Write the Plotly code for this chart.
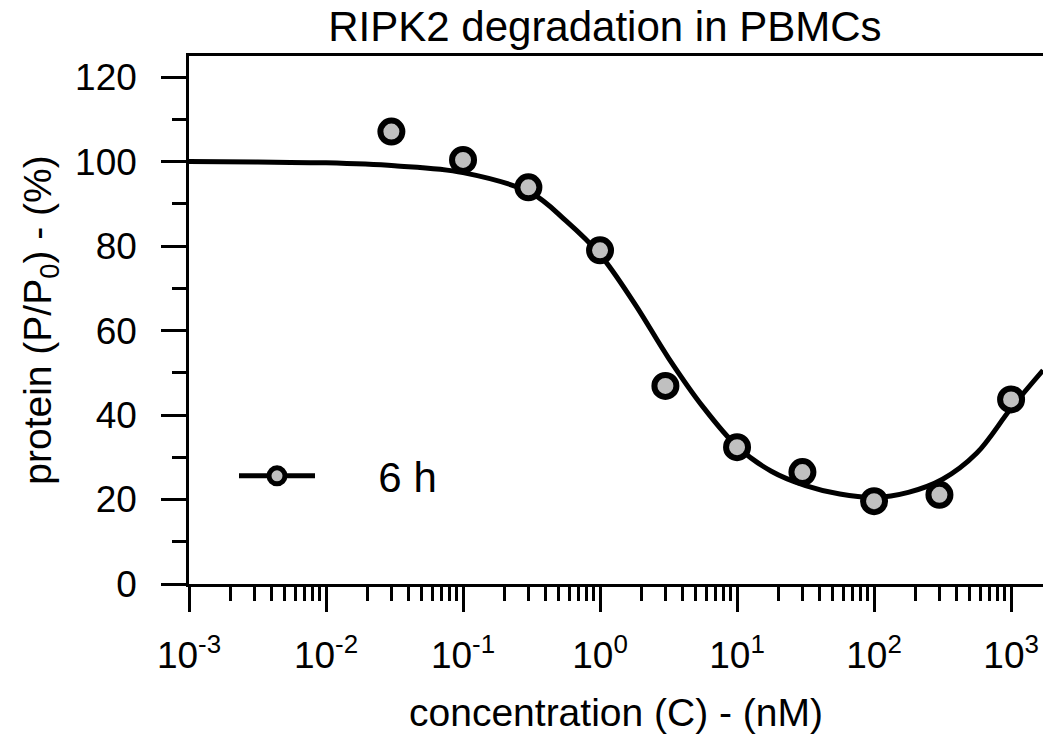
import plotly.graph_objects as go

# ---- data ----
conc_nM = [0.03, 0.1, 0.3, 1, 3, 10, 30, 100, 300, 1000]
protein_pct = [107.1, 100.4, 93.9, 79.0, 46.9, 32.4, 26.5, 19.6, 21.1, 43.7]

# fitted curve (log10 concentration, %)
curve_log_c = [-3.0, -2.5, -2.0, -1.5, -1.0, -0.5, -0.25, 0.0, 0.25, 0.5, 0.75,
               1.0, 1.25, 1.5, 1.75, 2.0, 2.25, 2.5, 2.75, 3.0, 3.233]
curve_pct = [100.0, 99.9, 99.7, 99.0, 97.4, 92.5, 86.0, 78.0, 66.5, 53.5, 42.0,
             32.6, 26.7, 23.3, 21.3, 20.5, 21.7, 24.8, 31.0, 41.6, 50.6]

x_tick_vals = [1e-3, 1e-2, 1e-1, 1e0, 1e1, 1e2, 1e3]
x_tick_text = ["10<sup>-3</sup>", "10<sup>-2</sup>", "10<sup>-1</sup>", "10<sup>0</sup>",
               "10<sup>1</sup>", "10<sup>2</sup>", "10<sup>3</sup>"]
y_tick_vals = [0, 20, 40, 60, 80, 100, 120]

series_name = "6 h"
title_text = "RIPK2 degradation in PBMCs"
x_title = "concentration (C) - (nM)"
y_title = "protein (P/P<sub>0</sub>) - (%)"

FONT = "Liberation Sans, Arial, Helvetica, sans-serif"
FS_TICK = 37
FS_AXT = 39
FS_TITLE = 42
FS_LEG = 42

x_minor = [m * 10 ** e for e in range(-3, 3) for m in range(2, 10)]
curve_c = [10 ** v for v in curve_log_c]

fig = go.Figure()
fig.add_trace(go.Scatter(
    x=curve_c, y=curve_pct, mode="lines",
    line=dict(color="black", width=5, shape="spline", smoothing=1.0),
    showlegend=False, hoverinfo="skip"))
fig.add_trace(go.Scatter(
    x=conc_nM, y=protein_pct, mode="markers",
    marker=dict(size=22, color="#c0c0c0", line=dict(color="black", width=6)),
    showlegend=False, cliponaxis=False))
# legend entry (line + marker sample)
fig.add_trace(go.Scatter(
    x=[None], y=[None], mode="lines+markers",
    name="\u00a0\u00a0\u00a0\u00a0\u00a0" + series_name,
    line=dict(color="black", width=5),
    marker=dict(size=16, color="#c0c0c0", line=dict(color="black", width=5))))

fig.update_layout(
    width=1043, height=744,
    margin=dict(l=189, r=0, t=56, b=160, autoexpand=False),
    paper_bgcolor="white", plot_bgcolor="white",
    font=dict(family=FONT, size=FS_TICK, color="black"),
    title=dict(text=title_text, x=0.487, xref="paper", xanchor="center",
               y=0.964, yref="container", yanchor="middle",
               font=dict(family=FONT, size=FS_TITLE, color="black")),
    showlegend=True,
    legend=dict(x=0.0527, y=0.2045, xanchor="left", yanchor="middle",
                bgcolor="rgba(0,0,0,0)", itemwidth=76,
                font=dict(family=FONT, size=FS_LEG, color="black")),
)

fig.update_xaxes(
    type="log", range=[-3, 3.233], automargin=False,
    showline=True, linecolor="black", linewidth=2.5, mirror=True,
    showgrid=False, zeroline=False,
    tickmode="array", tickvals=x_tick_vals, ticktext=x_tick_text,
    ticks="outside", ticklen=25, tickwidth=2.5, tickcolor="black",
    ticklabelstandoff=12,
    tickfont=dict(family=FONT, size=FS_TICK, color="black"),
    minor=dict(tickmode="array", tickvals=x_minor, ticks="outside",
               ticklen=14, tickwidth=2.5, tickcolor="black", showgrid=False),
    title=dict(text=x_title, standoff=24, font=dict(family=FONT, size=FS_AXT, color="black")),
)
fig.update_yaxes(
    range=[0, 125], automargin=False,
    showline=True, linecolor="black", linewidth=2.5, mirror=False,
    showgrid=False, zeroline=False,
    tickmode="array", tickvals=y_tick_vals,
    ticks="outside", ticklen=25, tickwidth=2.5, tickcolor="black",
    ticklabelstandoff=17,
    tickfont=dict(family=FONT, size=FS_TICK, color="black"),
    minor=dict(dtick=10, ticks="outside", ticklen=14, tickwidth=2.5,
               tickcolor="black", showgrid=False),
    title=dict(text=y_title, standoff=12, font=dict(family=FONT, size=FS_AXT, color="black")),
)

fig.write_html("out.html", config={"displayModeBar": False},
               post_script="document.body.style.margin='0';")
